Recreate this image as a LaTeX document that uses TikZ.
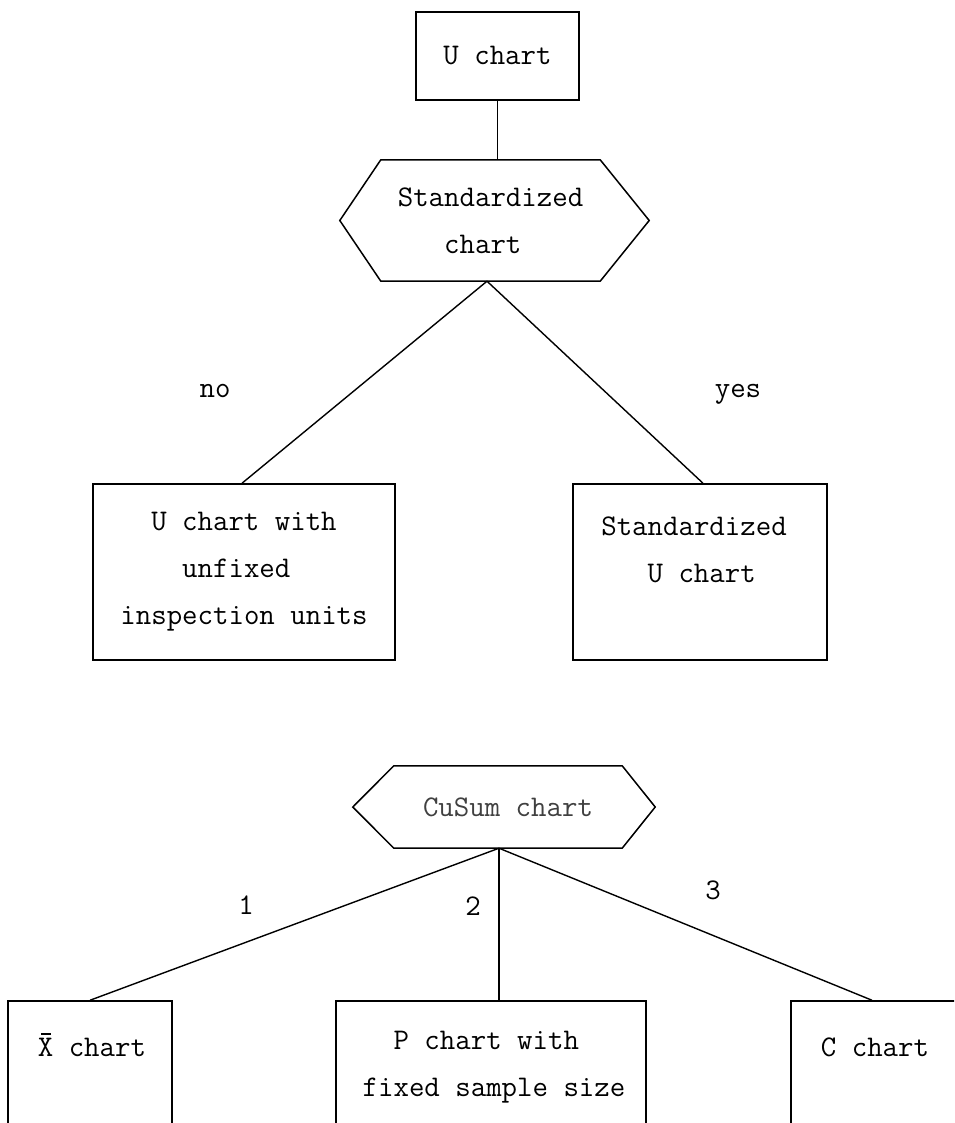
\documentclass[tikz,border=0pt]{standalone}
\begin{document}
\begin{tikzpicture}[x=1pt,y=-1pt,
  every node/.style={font=\ttfamily\fontsize{30}{47}\selectfont},
  frame/.style={draw, line width=1.5pt, inner sep=0pt},
  hexline/.style={line width=1.5pt, line join=miter},
  lbl/.style={inner sep=0pt},
  link/.style={line width=1.4pt}]
\useasboundingbox (0,0) rectangle (954,1123);
\clip (0,0) rectangle (954,1123);

% upper decision tree
\node[frame, minimum width=163pt, minimum height=88pt] (uchart) at (497.5,56) {U chart};

\node[lbl, minimum width=219pt, minimum height=121pt, align=left] (std) at (490.5,220.5)
  {Standardized\\\phantom{xxx}chart};
\draw[hexline] (std.north west) -- (std.north east) -- ([xshift=49pt]std.east)
  -- (std.south east) -- (std.south west) -- ([xshift=-41pt]std.west) -- cycle;

\node[frame, minimum width=302pt, minimum height=176pt, align=left] (unfixed) at (244,572)
  {\phantom{xx}U chart with\\\phantom{xxxx}unfixed\\inspection units};
\node[frame, minimum width=254pt, minimum height=176pt] (stdu) at (700,572) {};
\node[lbl, align=left] (stdutxt) at (694,549.5) {Standardized\\\phantom{xxx}U chart};

\draw[link] (uchart.south) -- (std.north -| uchart.south);
\coordinate (stdtip) at ([xshift=-3.5pt]std.south);
\draw[link] (stdtip) -- ([xshift=-2pt]unfixed.north);
\draw[link] (stdtip) -- ([xshift=3pt]stdu.north);

\node[lbl, anchor=base] (no) at (215,397) {no};
\node[lbl, anchor=base] (yes) at (738,397) {yes};

% lower decision tree
\node[lbl, minimum width=228pt, minimum height=82pt, text=black!75] (cusum) at (508,807) {CuSum chart};
\draw[hexline] (cusum.north west) -- (cusum.north east) -- ([xshift=33pt]cusum.east)
  -- (cusum.south east) -- (cusum.south west) -- ([xshift=-41pt]cusum.west) -- cycle;
\coordinate (cusumtip) at ([xshift=-9pt]cusum.south);

% X-bar: the bar is a thin rule set over the letter
\node[frame, minimum width=164pt, minimum height=149pt] (xbar) at (90,1075.5) {};
\node[lbl] (xbartxt) at (92,1045)
  {\rlap{\hspace{3pt}\rule[22pt]{10pt}{1.4pt}}X chart};
\node[frame, minimum width=310pt, minimum height=149pt] (pbox) at (491,1075.5) {};
\node[lbl, align=left] (ptxt) at (494,1067.5) {\phantom{xx}P chart with\\fixed sample size};
\node[frame, minimum width=209pt, minimum height=149pt] (cbox) at (895.5,1075.5) {};
\node[lbl] (ctxt) at (875,1047) {C chart};

\draw[link] (cusumtip) -- (xbar.north);
\draw[link] (cusumtip) -- ([xshift=8pt]pbox.north);
\draw[link] (cusumtip) -- ([xshift=-23.5pt]cbox.north);

\node[lbl] (one) at (246,905) {1};
\node[lbl] (two) at (473,906) {2};
\node[lbl] (three) at (713,890) {3};
\end{tikzpicture}
\end{document}
